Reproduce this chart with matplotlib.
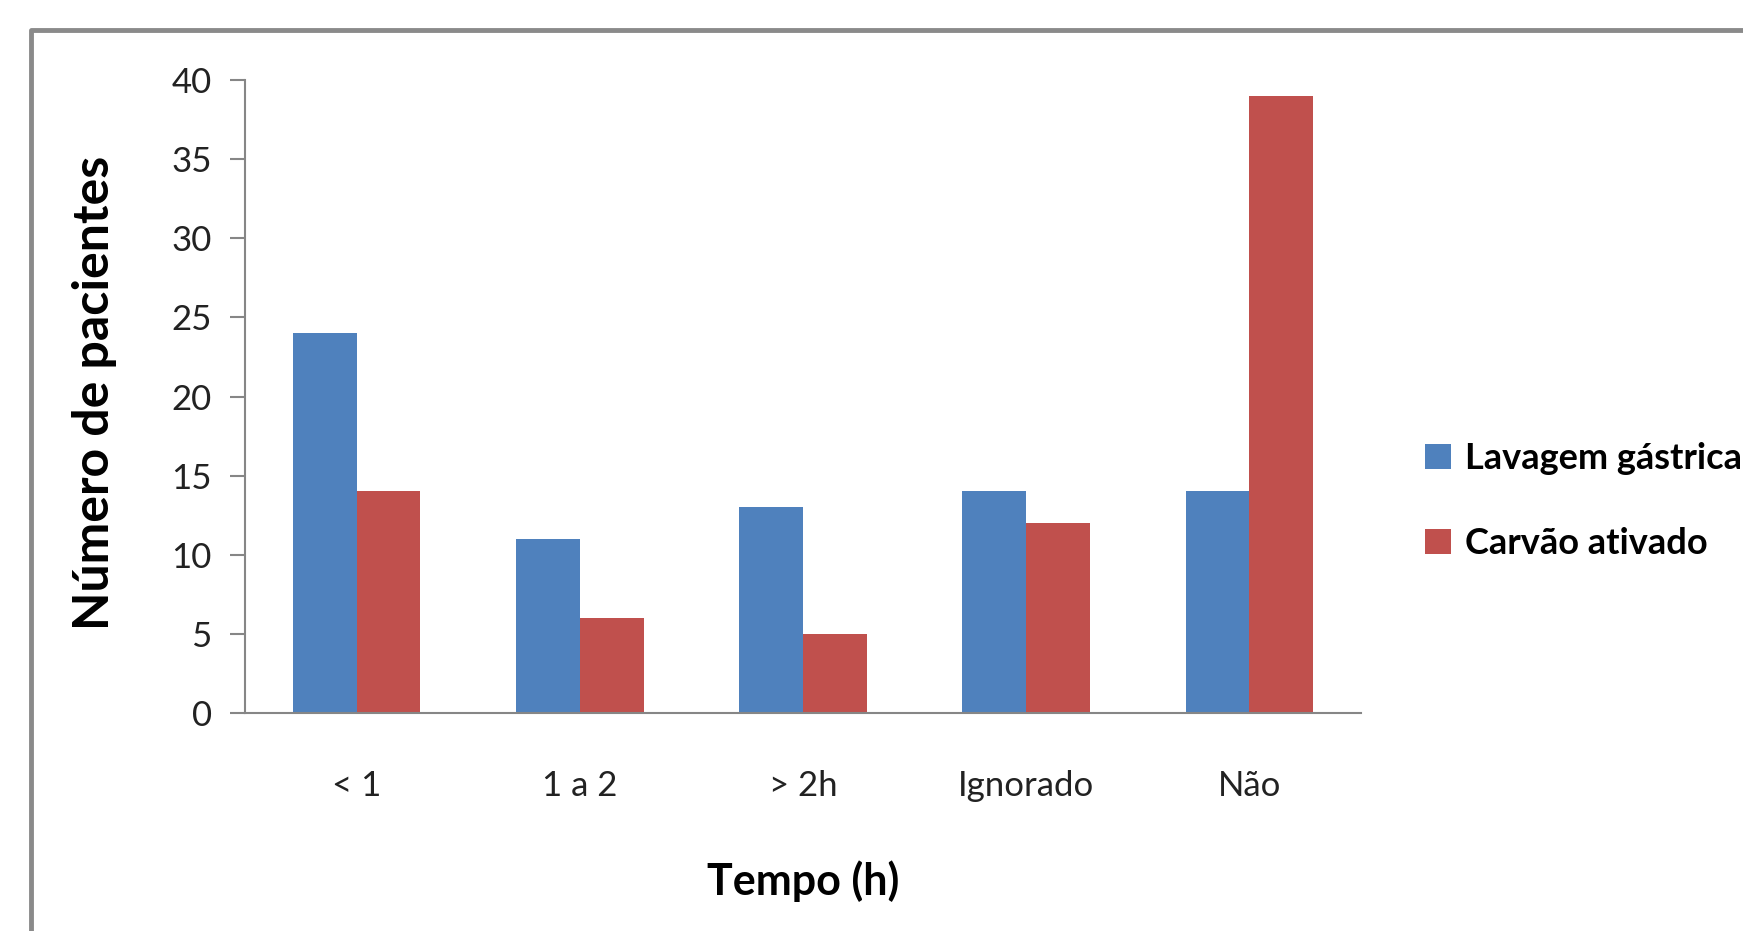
import numpy as np
import matplotlib
matplotlib.use("Agg")
import matplotlib.pyplot as plt
from matplotlib.lines import Line2D

categories = ['< 1', '1 a 2', '> 2h', 'Ignorado', 'Não']
lavagem = [24, 11, 13, 14, 14]
carvao = [14, 6, 5, 12, 39]
series_names = ['Lavagem gástrica', 'Carvão ativado']
colors = ['#4F81BD', '#C0504D']
yticks = [0, 5, 10, 15, 20, 25, 30, 35, 40]

plt.rcParams['font.family'] = ['Lato', 'DejaVu Sans']

W, H = 1743, 931
fig = plt.figure(figsize=(W / 100, H / 100), dpi=100)
ax = fig.add_axes([245 / W, 1 - 713 / H, (1361 - 245) / W, (713 - 80) / H])

x = np.arange(len(categories))
bw = 1 / 3.5
ax.bar(x - bw / 2, lavagem, bw, color=colors[0], label=series_names[0])
ax.bar(x + bw / 2, carvao, bw, color=colors[1], label=series_names[1])

ax.set_xlim(-0.5, len(categories) - 0.5)
ax.set_ylim(0, 40)
ax.set_yticks(yticks)
ax.set_xticks(x)
ax.set_xticklabels(categories)

axis_col = '#868686'
for s in ['top', 'right']:
    ax.spines[s].set_visible(False)
ax.spines['left'].set_color(axis_col)
ax.spines['bottom'].set_color(axis_col)
ax.spines['left'].set_linewidth(1.5)
ax.spines['bottom'].set_linewidth(1.5)
ax.tick_params(axis='y', length=11, width=1.5, color=axis_col, labelsize=25, pad=13,
               labelcolor='#222222')
ax.tick_params(axis='x', length=0, labelsize=25, pad=41, labelcolor='#222222')

ax.set_ylabel('Número de pacientes', fontsize=36, fontweight='bold', va='center')
ax.yaxis.set_label_coords(-0.135, 0.505)
ax.set_xlabel('Tempo (h)', fontsize=31, fontweight='bold', va='center')
ax.xaxis.set_label_coords(0.5, -0.265)

leg = fig.legend(loc='center left', bbox_to_anchor=(1411 / W, 1 - 501 / H), frameon=False,
                 fontsize=26, handlelength=0.7, handleheight=0.7, handletextpad=0.4,
                 labelspacing=1.45, borderaxespad=0)
for t in leg.get_texts():
    t.set_fontweight('bold')

# outer frame, cut off at right and bottom
fig.add_artist(Line2D([31 / W, 31 / W, 1.0], [0.0, 1 - 30 / H, 1 - 30 / H],
                      transform=fig.transFigure, color='#8a8a8a', linewidth=3.5))

fig.savefig('out.png', dpi=100, facecolor='white')
